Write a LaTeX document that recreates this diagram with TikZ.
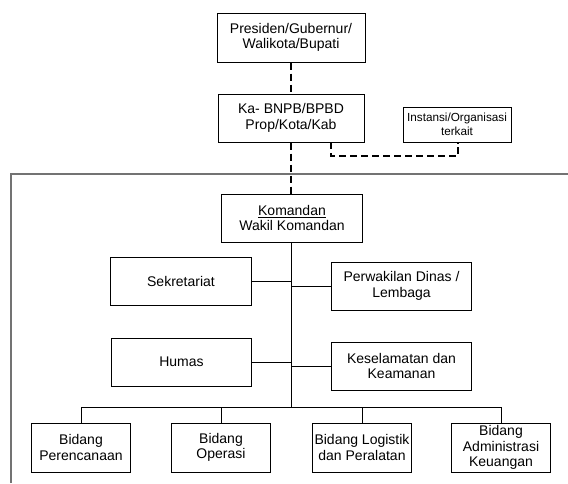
\documentclass[tikz,border=0pt]{standalone}
\usepackage{fontspec}
\setmainfont{Liberation Sans}
\begin{document}
\begin{tikzpicture}[x=0.75pt,y=-0.75pt,
  box/.style={draw=black,line width=0.75pt,align=center,inner sep=0pt,
    font=\fontsize{10.5}{11.5}\selectfont},
  midbox/.style={box,minimum width=105.5pt,minimum height=36pt},
  smallbox/.style={box,minimum width=74.5pt,minimum height=36.75pt},
  dashline/.style={line width=1.5pt,dash pattern=on 5.25pt off 3pt},
  conn/.style={line width=0.75pt},
  frame/.style={draw=black!55,line width=1.5pt}]
\useasboundingbox (0,0) rectangle (568,483);
% frame lines
\draw[frame] (11,483) -- (11,174) -- (568,174);
% nodes
\node[box,minimum width=111pt,minimum height=36.75pt] (pres) at (291,37.5) {Presiden/Gubernur/\\Walikota/Bupati};
\node[box,minimum width=109.5pt,minimum height=36pt] (ka) at (291,118) {Ka- BNPB/BPBD\\Prop/Kota/Kab};
\node[box,minimum width=81pt,minimum height=26.25pt,font=\fontsize{8.8}{10.5}\selectfont] (inst) at (457,124.5) {Instansi/Organisasi\\terkait};
\node[midbox] (kom) at (292,218) {\underline{Komandan}\\Wakil Komandan};
\node[midbox] (sek) at (181,281) {Sekretariat};
\node[midbox] (hum) at (181.5,362) {Humas};
\node[midbox] (per) at (401.5,286) {Perwakilan Dinas /\\Lembaga};
\node[midbox] (kes) at (401.5,366) {Keselamatan dan\\Keamanan};
\node[smallbox] (b1) at (81,447.5) {Bidang\\Perencanaan};
\node[smallbox] (b2) at (221,447.5) {Bidang\\Operasi};
\node[smallbox] (b3) at (362,447.5) {Bidang Logistik\\dan Peralatan};
\node[smallbox] (b4) at (501,447.5) {Bidang\\Administrasi\\Keuangan};
% coordinates
\coordinate (kaout) at (331,142);
\coordinate (k1) at (331,156);
\coordinate (k2) at (458,156);
\coordinate (bar) at (291,407);
% dashed connectors
\draw[dashline] (pres.south) -- (ka.north);
\draw[dashline] (ka.south) -- (ka.south |- kom.north);
\draw[dashline] (kaout) -- (k1) -- (k2) -- (k2 |- inst.south);
% solid connectors
\draw[conn] (kom.south -| bar) -- (bar);
\draw[conn] (sek.east) -- (sek.east -| bar);
\draw[conn] (hum.east) -- (hum.east -| bar);
\draw[conn] (per.west) -- (per.west -| bar);
\draw[conn] (kes.west) -- (kes.west -| bar);
\draw[conn] (b1.north |- bar) -- (b4.north |- bar);
\foreach \b in {b1,b2,b3,b4} \draw[conn] (\b.north) -- (\b.north |- bar);
\end{tikzpicture}
\end{document}
